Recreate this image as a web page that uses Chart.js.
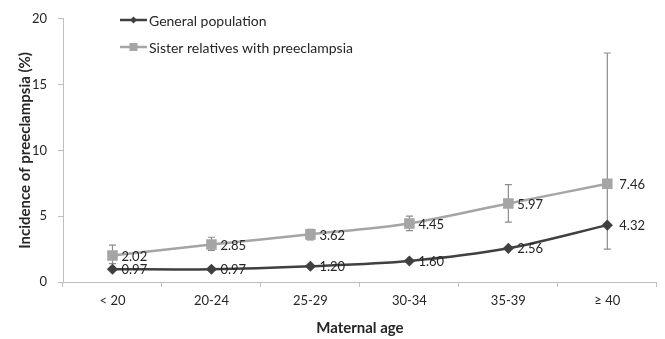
<!DOCTYPE html>
<html>
<head>
<meta charset="utf-8">
<script src="https://cdn.jsdelivr.net/npm/chart.js@4/dist/chart.umd.min.js"></script>
<style>
  html, body { margin: 0; padding: 0; background: #fff; }
  #wrap { width: 665px; height: 339px; overflow: hidden; }
</style>
</head>
<body>
<div id="wrap"><canvas id="myChart" width="665" height="339"></canvas></div>
<script>
const ageGroups = ['< 20', '20-24', '25-29', '30-34', '35-39', '\u2265 40'];
const generalPop = [0.97, 0.97, 1.20, 1.60, 2.56, 4.32];
const sisterRel = [2.02, 2.85, 3.62, 4.45, 5.97, 7.46];
// 95% CI
const sisterLow = [1.4, 2.4, 3.2, 3.9, 4.55, 2.5];
const sisterHigh = [2.8, 3.4, 4.0, 5.0, 7.4, 17.4];
const yTicks = [0, 5, 10, 15, 20];

const font = 'Lato';
const darkGrey = '#404040';
const lightGrey = '#a5a5a5';
const axisGrey = '#bfbfbf';

// error bars on the sister series
const errorBars = {
    id: 'errorBars',
    beforeDatasetsDraw(chart) {
        const ctx = chart.ctx;
        const meta = chart.getDatasetMeta(1);
        const y = chart.scales.y;
        ctx.save();
        ctx.strokeStyle = '#8c8c8c';
        ctx.lineWidth = 1.2;
        meta.data.forEach((pt, i) => {
            const top = y.getPixelForValue(sisterHigh[i]);
            const bot = y.getPixelForValue(sisterLow[i]);
            ctx.beginPath();
            ctx.moveTo(pt.x, top);
            ctx.lineTo(pt.x, bot);
            ctx.moveTo(pt.x - 3.5, top);
            ctx.lineTo(pt.x + 3.5, top);
            ctx.moveTo(pt.x - 3.5, bot);
            ctx.lineTo(pt.x + 3.5, bot);
            ctx.stroke();
        });
        ctx.restore();
    }
};

// value labels right of each point
const valueLabels = {
    id: 'valueLabels',
    afterDatasetsDraw(chart) {
        const ctx = chart.ctx;
        ctx.save();
        ctx.font = '13px ' + font;
        ctx.fillStyle = '#262626';
        ctx.textAlign = 'left';
        ctx.textBaseline = 'middle';
        chart.data.datasets.forEach((ds, d) => {
            const meta = chart.getDatasetMeta(d);
            meta.data.forEach((pt, i) => {
                const off = i === ds.data.length - 1 ? 12 : 9;
                ctx.fillText(ds.data[i].toFixed(2), pt.x + off, pt.y + 1);
            });
        });
        ctx.restore();
    }
};

// legend drawn as a vertical list top left
const sideLegend = {
    id: 'sideLegend',
    afterDraw(chart) {
        const ctx = chart.ctx;
        const rows = [20, 47];
        ctx.save();
        chart.data.datasets.forEach((ds, d) => {
            const yy = rows[d];
            ctx.strokeStyle = ds.borderColor;
            ctx.lineWidth = 2.5;
            ctx.beginPath();
            ctx.moveTo(120, yy);
            ctx.lineTo(147, yy);
            ctx.stroke();
            ctx.fillStyle = ds.pointBackgroundColor;
            ctx.beginPath();
            if (ds.pointStyle === 'rect') {
                ctx.rect(129.5, yy - 4, 8, 8);
            } else {
                ctx.moveTo(133.5, yy - 3.5);
                ctx.lineTo(137, yy);
                ctx.lineTo(133.5, yy + 3.5);
                ctx.lineTo(130, yy);
                ctx.closePath();
            }
            ctx.fill();
            ctx.fillStyle = '#262626';
            ctx.font = '14px ' + font;
            ctx.textAlign = 'left';
            ctx.textBaseline = 'middle';
            ctx.fillText(ds.label, 149, yy + 1);
        });
        ctx.restore();
    }
};

const ctx = document.getElementById('myChart').getContext('2d');
const chart = new Chart(ctx, {
    type: 'line',
    data: {
        labels: ageGroups,
        datasets: [{
            label: 'General population',
            data: generalPop,
            borderColor: darkGrey,
            backgroundColor: darkGrey,
            pointBackgroundColor: darkGrey,
            pointBorderColor: darkGrey,
            pointStyle: 'rectRot',
            pointRadius: 3.8,
            borderWidth: 2.5,
            tension: 0.3
        }, {
            label: 'Sister relatives with preeclampsia',
            data: sisterRel,
            borderColor: lightGrey,
            backgroundColor: lightGrey,
            pointBackgroundColor: lightGrey,
            pointBorderColor: lightGrey,
            pointStyle: 'rect',
            pointRadius: 5.7,
            borderWidth: 2.5,
            tension: 0.3
        }]
    },
    options: {
        responsive: false,
        devicePixelRatio: 1,
        animation: false,
        layout: { padding: { top: 17, right: 0, left: 0, bottom: 0 } },
        plugins: {
            legend: { display: false },
            tooltip: { enabled: false }
        },
        scales: {
            x: {
                offset: true,
                afterFit: s => { s.height = 57; },
                grid: {
                    drawOnChartArea: false,
                    drawTicks: true,
                    tickLength: 5,
                    color: axisGrey,
                    offset: true
                },
                border: { color: axisGrey },
                ticks: {
                    color: '#262626',
                    padding: 6,
                    maxRotation: 0,
                    font: { family: font, size: 13 }
                },
                title: {
                    display: true,
                    text: 'Maternal age',
                    color: '#262626',
                    padding: { top: 0, bottom: 2 },
                    font: { family: font, size: 15, weight: 'bold' }
                }
            },
            y: {
                min: 0,
                max: 20,
                afterFit: s => { s.width = 63; },
                afterBuildTicks: s => { s.ticks = yTicks.map(v => ({ value: v })); },
                grid: {
                    drawOnChartArea: false,
                    drawTicks: true,
                    tickLength: 5,
                    color: axisGrey
                },
                border: { color: axisGrey },
                ticks: {
                    color: '#262626',
                    padding: 11,
                    font: { family: font, size: 13 }
                },
                title: {
                    display: true,
                    text: 'Incidence of preeclampsia (%)',
                    color: '#262626',
                    padding: { top: 16, bottom: 0 },
                    font: { family: font, size: 15, weight: 'bold' }
                }
            }
        }
    },
    plugins: [errorBars, valueLabels, sideLegend]
});
</script>
</body>
</html>
